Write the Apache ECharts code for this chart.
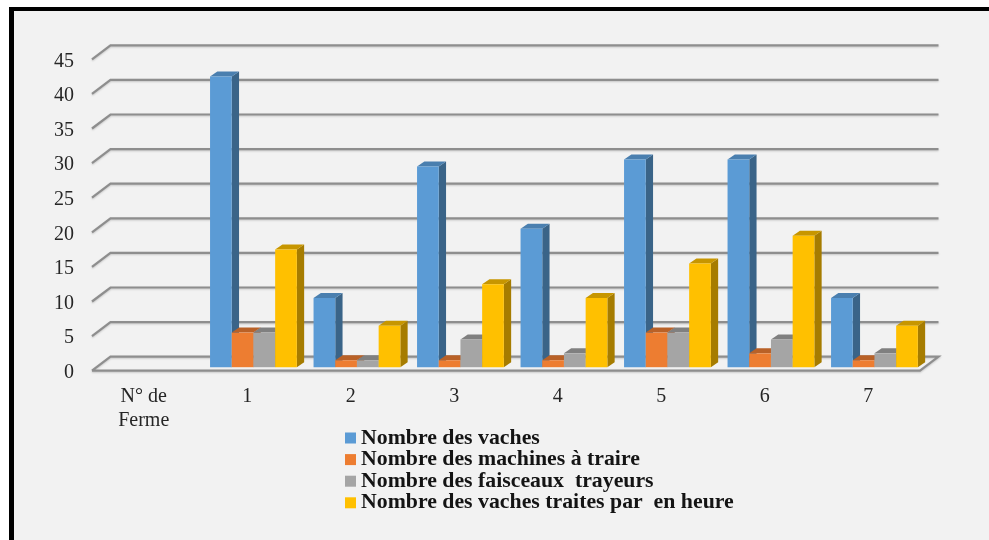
<!DOCTYPE html>
<html>
<head>
<meta charset="utf-8">
<style>html,body{margin:0;padding:0;background:#fff}#chart{width:989px;height:540px}</style>
<script src="https://cdn.jsdelivr.net/npm/echarts@6/dist/echarts.min.js"></script>
</head>
<body>
<div id="chart"></div>
<script>
// Farm survey: herd size and milking equipment per farm
const farms = ['N° de\nFerme', '1', '2', '3', '4', '5', '6', '7'];
const yTicks = [0, 5, 10, 15, 20, 25, 30, 35, 40, 45];
const vaches = [null, 42, 10, 29, 20, 30, 30, 10];
const machines = [null, 5, 1, 1, 1, 5, 2, 1];
const faisceaux = [null, 5, 1, 4, 2, 5, 4, 2];
const vachesTraites = [null, 17, 6, 12, 10, 15, 19, 6];
const seriesNames = [
  'Nombre des vaches',
  'Nombre des machines à traire',
  'Nombre des faisceaux  trayeurs',
  'Nombre des vaches traites par  en heure'
];
const seriesValues = [vaches, machines, faisceaux, vachesTraites];
const shades = [
  { front: '#5B9BD5', top: '#4A7FAF', side: '#3A6488' },
  { front: '#ED7D31', top: '#B96127', side: '#9A5120' },
  { front: '#A5A5A5', top: '#808080', side: '#6B6B6B' },
  { front: '#FFC000', top: '#C79600', side: '#A67C00' }
];

// Oblique projection of the chart box
const WALL_DX = 18.5, WALL_DY = -14;
const BAR_W = 21.7, BAR_DX = 7.3, BAR_DY = -5;
const BAR_SHIFT_X = 6.2, BAR_SHIFT_Y = -3.5;
const GRID_COLOR = '#8E8E8E';

function renderGridLine(params, api) {
  const box = params.coordSys;
  const y = api.coord([0, api.value(1)])[1];
  const l = box.x, r = box.x + box.width;
  const floor = api.value(1) === 0;
  const points = floor
    ? [[l, y], [l + WALL_DX, y + WALL_DY], [r + WALL_DX, y + WALL_DY], [r, y], [l, y]]
    : [[l, y], [l + WALL_DX, y + WALL_DY], [r + WALL_DX, y + WALL_DY]];
  return {
    type: 'polyline',
    shape: { points },
    style: {
      stroke: GRID_COLOR, lineWidth: 2.2, fill: null,
      shadowColor: 'rgba(0,0,0,0.18)', shadowBlur: 2, shadowOffsetY: 1
    }
  };
}

function barRenderer(seriesIndex) {
  const c = shades[seriesIndex];
  return function (params, api) {
    const cat = api.value(0), val = api.value(1);
    const base = api.coord([cat, 0]);
    const head = api.coord([cat, val]);
    const x0 = base[0] - 2 * BAR_W + seriesIndex * BAR_W + BAR_SHIFT_X;
    const x1 = x0 + BAR_W;
    const yb = base[1] + BAR_SHIFT_Y, yt = head[1] + BAR_SHIFT_Y;
    return {
      type: 'group',
      children: [
        { type: 'polygon', shape: { points: [[x1, yt], [x1 + BAR_DX, yt + BAR_DY], [x1 + BAR_DX, yb + BAR_DY], [x1, yb]] },
          style: { fill: c.side } },
        { type: 'polygon', shape: { points: [[x0, yt], [x0 + BAR_DX, yt + BAR_DY], [x1 + BAR_DX, yt + BAR_DY], [x1, yt]] },
          style: { fill: c.top } },
        { type: 'rect', shape: { x: x0, y: yt, width: BAR_W, height: yb - yt },
          style: { fill: c.front } }
      ]
    };
  };
}

const chart = echarts.init(document.getElementById('chart'), null, { renderer: 'canvas' });
chart.setOption({
  animation: false,
  backgroundColor: '#F2F2F2',
  graphic: [
    { type: 'rect', silent: true, z: 100, shape: { x: 0, y: 0, width: 989, height: 7 }, style: { fill: '#fff' } },
    { type: 'rect', silent: true, z: 100, shape: { x: 0, y: 0, width: 9, height: 540 }, style: { fill: '#fff' } },
    { type: 'rect', silent: true, z: 101, shape: { x: 9, y: 7, width: 980, height: 4 }, style: { fill: '#000' } },
    { type: 'rect', silent: true, z: 101, shape: { x: 9, y: 7, width: 5, height: 533 }, style: { fill: '#000' } }
  ],
  grid: { left: 92, right: 69, top: 59.3, bottom: 169.3, containLabel: false },
  xAxis: {
    type: 'category',
    data: farms,
    axisLine: { show: false },
    axisTick: { show: false },
    splitLine: { show: false },
    axisLabel: {
      color: '#262626', fontFamily: 'Liberation Serif', fontSize: 20,
      lineHeight: 24, margin: 14, verticalAlign: 'top', interval: 0
    }
  },
  yAxis: {
    type: 'value', min: 0, max: 45, interval: 5,
    axisLine: { show: false },
    axisTick: { show: false },
    splitLine: { show: false },
    axisLabel: {
      fontFamily: 'Liberation Serif', fontSize: 20, margin: 18,
      formatter: '{tick|{value}}',
      rich: {
        tick: { color: '#262626', fontFamily: 'Liberation Serif', fontSize: 20, padding: [4, 0, 0, 0] }
      }
    }
  },
  legend: {
    orient: 'vertical',
    left: 345, top: 427,
    itemWidth: 11, itemHeight: 11, itemGap: -0.4,
    icon: 'rect',
    padding: 0,
    data: seriesNames,
    textStyle: {
      color: '#141414', fontFamily: 'Liberation Serif', fontWeight: 'bold',
      fontSize: 21.8, lineHeight: 18, padding: [0, 0, 0, 0]
    }
  },
  series: [
    {
      type: 'custom', name: 'grid', silent: true, z: 1,
      data: yTicks.map(v => [0, v]),
      encode: { x: 0, y: 1 },
      renderItem: renderGridLine
    }
  ].concat(seriesNames.map((name, s) => ({
    type: 'custom', name, z: 2 + s,
    itemStyle: { color: shades[s].front },
    encode: { x: 0, y: 1 },
    data: seriesValues[s].map((v, i) => [i, v]).filter(d => d[1] !== null),
    renderItem: barRenderer(s)
  })))
});
</script>
</body>
</html>
